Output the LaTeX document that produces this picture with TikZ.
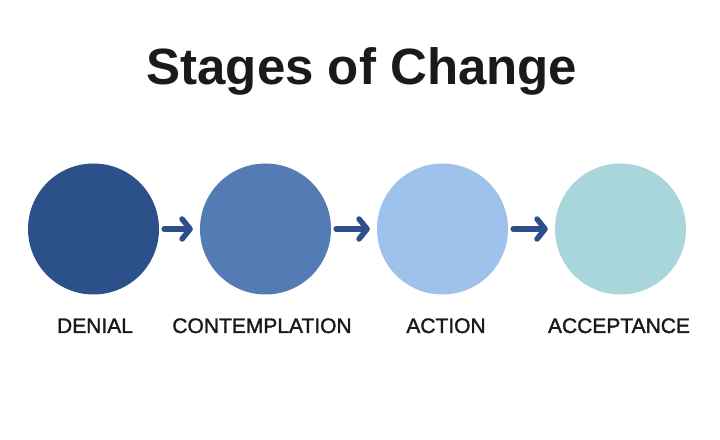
\documentclass[tikz,border=0pt]{standalone}
\usepackage{fontspec}
\setmainfont{Liberation Sans}
\newfontfamily\labfont[FakeBold=1.5]{Liberation Sans}
\usetikzlibrary{arrows.meta}
\definecolor{cA}{HTML}{2C5089}
\definecolor{cB}{HTML}{557BB5}
\definecolor{cC}{HTML}{9EC2EC}
\definecolor{cD}{HTML}{A9D6DA}
\definecolor{arrc}{HTML}{2D4F8B}
\definecolor{txt}{HTML}{1A1A1A}
\tikzset{
  stage/.style={circle, inner sep=0pt, minimum size=131pt},
  lab/.style={anchor=base, font=\fontsize{21}{24}\labfont\selectfont, text=txt},
  arr/.style={draw=arrc, line width=5.5pt, line cap=round,
    -{Straight Barb[length=8pt,width=20pt,line cap=round,line join=round]},
    shorten <=5pt, shorten >=7pt},
}
\begin{document}
\begin{tikzpicture}[x=1pt,y=1pt]
\useasboundingbox[fill=white] (0,0) rectangle (720,439);
\node[anchor=base, font=\fontsize{51}{56}\selectfont\bfseries, text=txt] (title) at (362,354) {Stages of Change};
\node[stage, fill=cA] (c1) at (93.5,210) {};
\node[stage, fill=cB] (c2) at (265.5,210) {};
\node[stage, fill=cC] (c3) at (442.5,210) {};
\node[stage, fill=cD] (c4) at (620.5,210) {};
\node[lab] (l1) at (95,106) {DENIAL};
\node[lab] (l2) at (262,106) {CONTEMPLATION};
\node[lab] (l3) at (446,106) {ACTION};
\node[lab] (l4) at (619,106) {ACCEPTANCE};
\draw[arr] (c1) -- (c2);
\draw[arr] (c2) -- (c3);
\draw[arr] (c3) -- (c4);
\end{tikzpicture}
\end{document}
